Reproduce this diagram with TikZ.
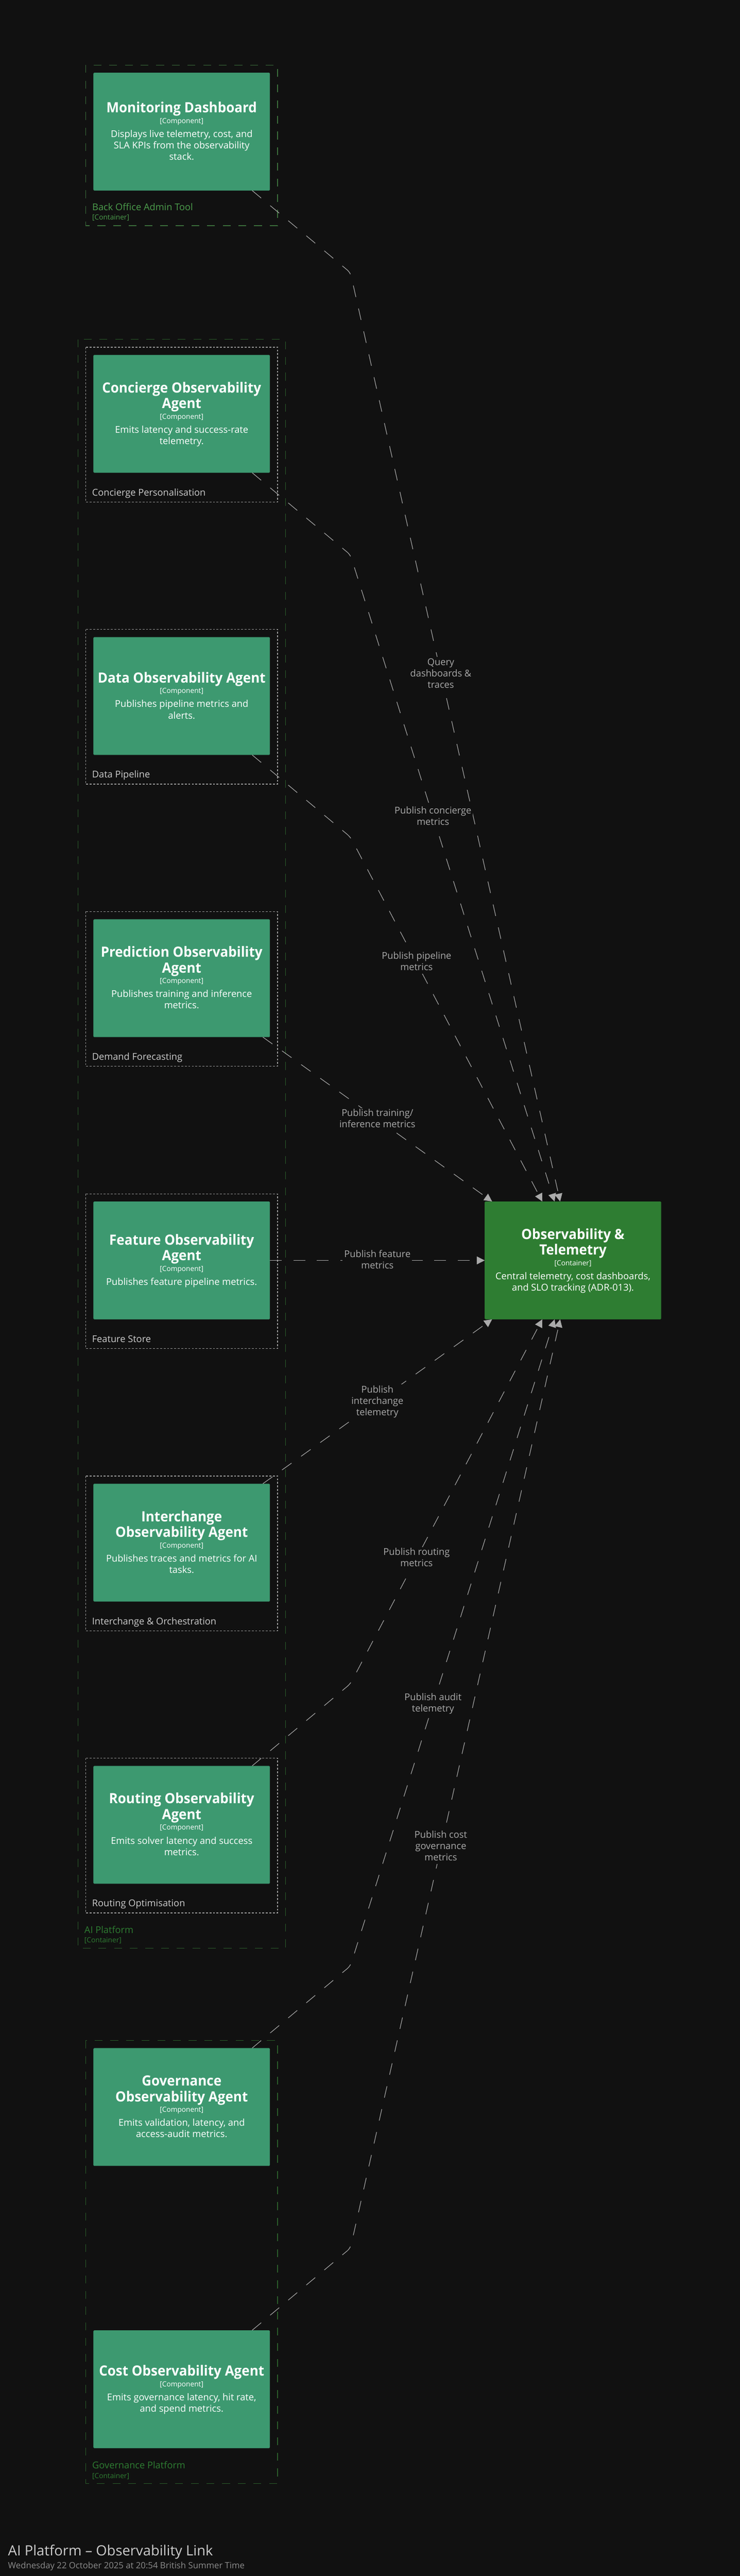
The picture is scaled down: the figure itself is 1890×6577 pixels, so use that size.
\documentclass[tikz,border=0pt]{standalone}
\usepackage{fontspec}
\setmainfont{Open Sans}
\newfontfamily\titlefont{Open Sans}[FakeStretch=0.95]
\usetikzlibrary{arrows.meta}

\definecolor{bgc}{HTML}{111111}
\definecolor{compfill}{HTML}{3D9970}
\definecolor{compline}{HTML}{398F69}
\definecolor{obsfill}{HTML}{2E7D32}
\definecolor{obsline}{HTML}{2B742F}
\definecolor{conn}{HTML}{AAAAAA}
\definecolor{conntext}{HTML}{AAAAAA}
\definecolor{grpline}{HTML}{9A9A9A}
\definecolor{grptext}{HTML}{CCCCCC}
\definecolor{botext}{HTML}{4C9D4C}
\definecolor{boline}{HTML}{3B6E3B}
\definecolor{ctrtext}{HTML}{2E7D32}
\definecolor{ctrline}{HTML}{2A5C2A}
\definecolor{titletext}{HTML}{CCCCCC}
\definecolor{subtext}{HTML}{8C8C8C}

\newcommand{\ctext}[3]{\begin{minipage}{446pt}\centering
\leftskip=-60pt plus 1fil\rightskip=-60pt plus 1fil
{\fontsize{36}{40}\titlefont\bfseries\rule{0pt}{31pt}#1\par}%
{\fontsize{18}{27}\selectfont [#2]\par}%
\vspace{7pt}%
{\fontsize{24}{29}\selectfont #3\rule[-7pt]{0pt}{7pt}\par}%
\end{minipage}}
\newcommand{\lstrut}{\rule[-8pt]{0pt}{29pt}}

\tikzset{
  comp/.style={rectangle, fill=compfill, draw=compline, line width=1pt, rounded corners=2pt,
    minimum width=450pt, minimum height=300pt, inner sep=0pt, text=white},
  obsbox/.style={comp, fill=obsfill, draw=obsline},
  ctrbound/.style={draw=ctrline, line width=1.8pt, dash pattern=on 20pt off 20pt},
  bobound/.style={ctrbound, draw=boline},
  grpbound/.style={draw=grpline, line width=1.5pt, dash pattern=on 5pt off 4pt},
  ctrname/.style={anchor=base west, inner sep=0pt, font=\fontsize{24}{29}\selectfont, text=ctrtext},
  ctrtype/.style={anchor=base west, inner sep=0pt, font=\fontsize{18}{22}\selectfont, text=ctrtext},
  grpname/.style={anchor=base west, inner sep=0pt, font=\fontsize{24}{29}\selectfont, text=grptext},
  rel/.style={draw=conn, line width=1.5pt, dash pattern=on 30pt off 30pt, rounded corners=10pt,
    -{Triangle[length=20pt,width=20pt]}},
  rellabel/.style={align=center, fill=bgc, text=conntext, font=\fontsize{24}{29}\selectfont,
    inner xsep=4pt, inner ysep=0pt},
}

\begin{document}
\begin{tikzpicture}[x=1pt,y=-1pt]
\useasboundingbox (0,0) rectangle (1890,6577);
\fill[bgc] (0,0) rectangle (1890,6577);

% ---------- boundaries ----------
% Back Office Admin Tool
\draw[bobound] (219,166) rectangle (709,576);
\node[ctrname, text=botext] (boname) at (235.5,537) {Back Office Admin Tool};
\node[ctrtype, text=botext] (botype) at (235.5,561) {[Container]};

% AI Platform
\draw[ctrbound] (199,866.5) rectangle (729,4974);
\node[ctrname] (ainame) at (215.5,4936) {AI Platform};
\node[ctrtype] (aitype) at (215.5,4960) {[Container]};

% groups
\draw[grpbound] (219,886.5) rectangle (709,1281.5);
\node[grpname] (g1) at (235,1265.5) {Concierge Personalisation};
\draw[grpbound] (219,1607) rectangle (709,2002);
\node[grpname] (g2) at (235,1986) {Data Pipeline};
\draw[grpbound] (219,2327.5) rectangle (709,2722.5);
\node[grpname] (g3) at (235,2706.5) {Demand Forecasting};
\draw[grpbound] (219,3048) rectangle (709,3443);
\node[grpname] (g4) at (235,3427) {Feature Store};
\draw[grpbound] (219,3768.5) rectangle (709,4163.5);
\node[grpname] (g5) at (235,4147.5) {Interchange \& Orchestration};
\draw[grpbound] (219,4489) rectangle (709,4884);
\node[grpname] (g6) at (235,4868) {Routing Optimisation};

% Governance Platform
\draw[ctrbound] (219,5209.5) rectangle (709,6341);
\node[ctrname] (govname) at (235.5,6303) {Governance Platform};
\node[ctrtype] (govtype) at (235.5,6327) {[Container]};

% ---------- elements ----------
\node[comp] (mon) at (464,336) {\ctext{Monitoring Dashboard}{Component}{Displays live telemetry, cost, and\\SLA KPIs from the observability\\stack.}};
\node[comp] (con) at (464,1056.5) {\ctext{Concierge Observability\\Agent}{Component}{Emits latency and success-rate\\telemetry.}};
\node[comp] (dat) at (464,1777) {\ctext{Data Observability Agent}{Component}{Publishes pipeline metrics and\\alerts.}};
\node[comp] (pre) at (464,2497.5) {\ctext{Prediction Observability\\Agent}{Component}{Publishes training and inference\\metrics.}};
\node[comp] (fea) at (464,3218) {\ctext{Feature Observability\\Agent}{Component}{Publishes feature pipeline metrics.}};
\node[comp] (int) at (464,3938.5) {\ctext{Interchange\\Observability Agent}{Component}{Publishes traces and metrics for AI\\tasks.}};
\node[comp] (rou) at (464,4659) {\ctext{Routing Observability\\Agent}{Component}{Emits solver latency and success\\metrics.}};
\node[comp] (gov) at (464,5379.5) {\ctext{Governance\\Observability Agent}{Component}{Emits validation, latency, and\\access-audit metrics.}};
\node[comp] (cst) at (464,6100) {\ctext{Cost Observability Agent}{Component}{Emits governance latency, hit rate,\\and spend metrics.}};
\node[obsbox] (obs) at (1463.5,3218) {\ctext{Observability \&\\Telemetry}{Container}{Central telemetry, cost dashboards,\\and SLO tracking (ADR-013).}};

% ---------- connectors ----------
\coordinate (vmon) at (895,696);
\coordinate (vcon) at (895,1416.5);
\coordinate (vdat) at (895,2137);
\coordinate (vrou) at (895,4299);
\coordinate (vgov) at (895,5019.5);
\coordinate (vcst) at (895,5740);

\draw[rel] (mon) -- (vmon) -- (obs);
\draw[rel] (con) -- (vcon) -- (obs);
\draw[rel] (dat) -- (vdat) -- (obs);
\draw[rel] (pre) -- (obs);
\draw[rel] (fea) -- (obs);
\draw[rel] (int) -- (obs);
\draw[rel] (rou) -- (vrou) -- (obs);
\draw[rel] (gov) -- (vgov) -- (obs);
\draw[rel] (cst) -- (vcst) -- (obs);

\node[rellabel] (lmon) at (1126,1721) {\lstrut Query\\\lstrut dashboards \&\\\lstrut traces};
\node[rellabel] (lcon) at (1106,2086) {\lstrut Publish concierge\\\lstrut metrics};
\node[rellabel] (ldat) at (1064,2457) {\lstrut Publish pipeline\\\lstrut metrics};
\node[rellabel] (lpre) at (964,2858) {\lstrut Publish training/\\\lstrut inference metrics};
\node[rellabel] (lfea) at (964,3218) {\lstrut Publish feature\\\lstrut metrics};
\node[rellabel] (lint) at (964,3578) {\lstrut Publish\\\lstrut interchange\\\lstrut telemetry};
\node[rellabel] (lrou) at (1064,3979) {\lstrut Publish routing\\\lstrut metrics};
\node[rellabel] (lgov) at (1106,4350) {\lstrut Publish audit\\\lstrut telemetry};
\node[rellabel] (lcst) at (1126,4715) {\lstrut Publish cost\\\lstrut governance\\\lstrut metrics};

% ---------- footer ----------
\node[anchor=base west, inner sep=0pt, font=\fontsize{36}{43}\selectfont, text=titletext] (title) at (20.5,6525) {AI Platform – Observability Link};
\node[anchor=base west, inner sep=0pt, font=\fontsize{22}{26}\selectfont, text=subtext] (subtitle) at (20.5,6558) {Wednesday 22 October 2025 at 20:54 British Summer Time};
\end{tikzpicture}
\end{document}
